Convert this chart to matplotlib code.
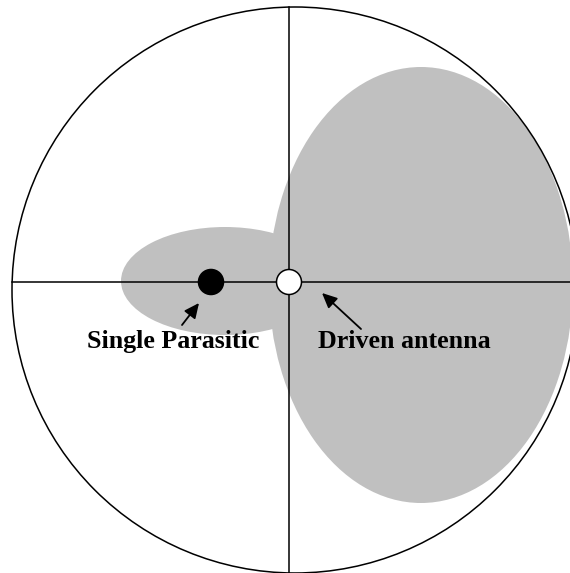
import numpy as np
import matplotlib
matplotlib.use("Agg")
import matplotlib.pyplot as plt
from matplotlib.patches import Ellipse, Circle

# Diagram geometry, in pixels relative to the crosshair (x right, y up)
ring_center = (6, -8)
ring_radius = 283

# radiation pattern: two lobes (center x, center y, width, height)
lobe_x = [132, -64]
lobe_y = [-3, 1]
lobe_w = [304, 208]
lobe_h = [436, 108]

# antenna elements
element_names = ["Single Parasitic", "Driven antenna"]
element_x = [-78, 0]
element_y = [0, 0]
element_face = ["black", "white"]
element_radius = 12.5

# labels and their arrows
label_x = [-116, 115]
label_y = [-66, -66]
arrow_tail = [(-107, -43), (72, -47)]
arrow_head = [(-90, -21), (33, -11)]

fig = plt.figure(figsize=(5.70, 5.73), dpi=100)
ax = fig.add_axes([0, 0, 1, 1])
ax.set_xlim(-289, 281)
ax.set_ylim(-291, 282)
ax.set_aspect("equal")
ax.axis("off")

grey = "#c0c0c0"
for cx, cy, w, h in zip(lobe_x, lobe_y, lobe_w, lobe_h):
    ax.add_patch(Ellipse((cx, cy), w, h, facecolor=grey, edgecolor="none", zorder=1))

ax.add_patch(Circle(ring_center, ring_radius, fill=False, edgecolor="black", lw=1.1, zorder=3))

# crosshair lines end on the ring
cx0, cy0 = ring_center
dy = np.sqrt(ring_radius**2 - cx0**2)
dx = np.sqrt(ring_radius**2 - cy0**2)
ax.plot([0, 0], [cy0 - dy, cy0 + dy], color="black", lw=1.1, zorder=2)
ax.plot([cx0 - dx, cx0 + dx], [0, 0], color="black", lw=1.1, zorder=2)

for x, y, fc in zip(element_x, element_y, element_face):
    ax.add_patch(Circle((x, y), element_radius, facecolor=fc, edgecolor="black", lw=1.1, zorder=4))

for name, tx, ty, tail, head in zip(element_names, label_x, label_y, arrow_tail, arrow_head):
    ax.text(tx, ty, name, ha="center", va="baseline", fontsize=18.7,
            fontweight="bold", family="Liberation Serif", zorder=5)
    ax.annotate("", xy=head, xytext=tail,
                arrowprops=dict(arrowstyle="-|>,head_length=0.6,head_width=0.28",
                                mutation_scale=15, color="black", lw=1.3,
                                shrinkA=0, shrinkB=0), zorder=5)

fig.savefig("out.png", dpi=100, facecolor="white")
